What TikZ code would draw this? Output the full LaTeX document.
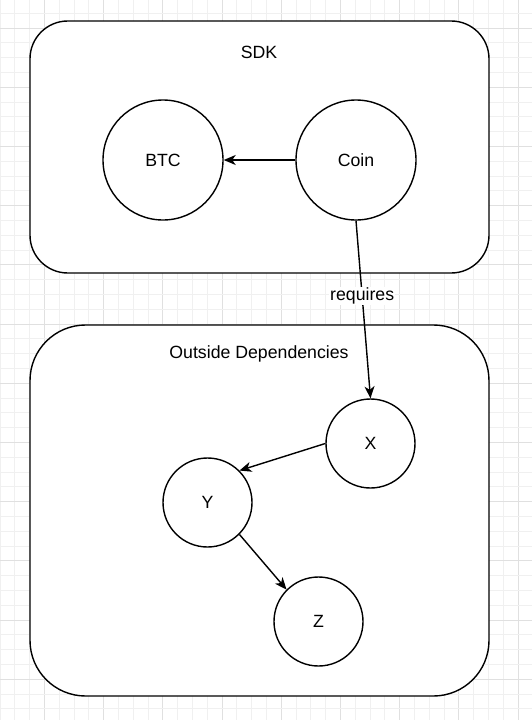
\documentclass[tikz,border=0pt]{standalone}
\usepackage{fontspec}
\setmainfont{Liberation Sans}
\usetikzlibrary{arrows.meta}
\tikzset{
  gridminor/.style={draw=black!6, line width=0.9pt},
  gridmajor/.style={draw=black!12, line width=0.9pt},
  group/.style={draw=black, fill=white, line width=1.4pt, rectangle, inner sep=0pt},
  circ/.style={draw=black, fill=white, line width=1.4pt, circle, inner sep=0pt, font=\fontsize{17.7}{21}\selectfont},
  lbl/.style={font=\fontsize{17.7}{21}\selectfont, inner sep=1pt},
  link/.style={draw=black, line width=1.4pt, -{Stealth[length=12pt,width=10pt,inset=3.5pt]}},
}
\begin{document}
\begin{tikzpicture}[x=1pt,y=-1pt]
\useasboundingbox (0,0) rectangle (532,720);
\fill[white] (0,0) rectangle (532,720);
% grid
\foreach \k in {0,...,36}{
  \pgfmathtruncatemacro{\m}{mod(\k,4)}
  \ifnum\m=3
    \draw[gridmajor] ({14.8*\k},0) -- ({14.8*\k},720);
  \else
    \draw[gridminor] ({14.8*\k},0) -- ({14.8*\k},720);
  \fi
}
\foreach \k in {1,...,49}{
  \pgfmathtruncatemacro{\m}{mod(\k,4)}
  \ifnum\m=2
    \draw[gridmajor] (0,{14.8*\k-1.5}) -- (532,{14.8*\k-1.5});
  \else
    \draw[gridminor] (0,{14.8*\k-1.5}) -- (532,{14.8*\k-1.5});
  \fi
}
% groups
\node[group, rounded corners=37.8pt, minimum width=459pt, minimum height=252pt] (sdk) at (259.5,147) {};
\node[group, rounded corners=55.6pt, minimum width=459pt, minimum height=371pt] (outside) at (259.5,510.5) {};
\node[lbl] (sdklbl) at (259,52) {SDK};
\node[lbl] (outlbl) at (259,354) {Outside Dependencies};
% circles
\node[circ, minimum size=120pt] (btc) at (163,160) {BTC};
\node[circ, minimum size=120pt] (coin) at (356,160) {Coin};
\node[circ, minimum size=89pt] (x) at (370.5,443.5) {X};
\node[circ, minimum size=89pt] (y) at (207.5,502.5) {Y};
\node[circ, minimum size=89pt] (z) at (318.5,621.5) {Z};
% connectors
\draw[link] (coin.west) -- (btc.east);
\draw[link] (coin.south) -- node[lbl, fill=white, pos=0.425] {requires} (x.north);
\draw[link] (x.west) -- (y.45);
\draw[link] (y.-45) -- (z.135);
\end{tikzpicture}
\end{document}
